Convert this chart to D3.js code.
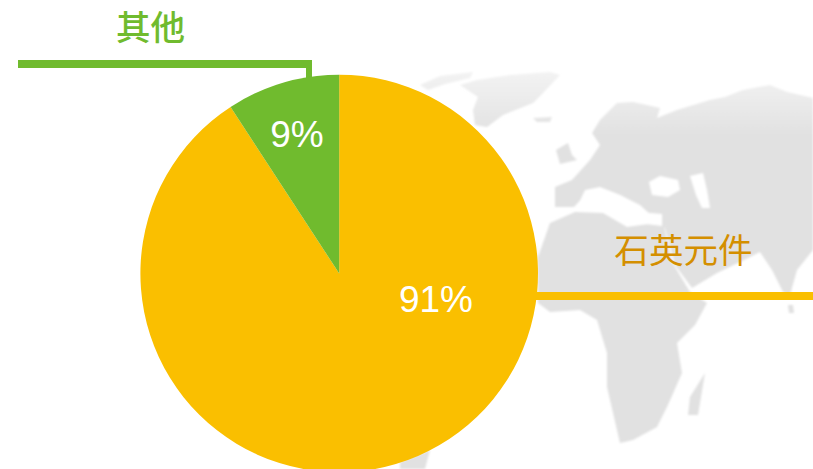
<!DOCTYPE html>
<html><head><meta charset="utf-8">
<script src="https://cdn.jsdelivr.net/npm/d3@7"></script>
<style>html,body{margin:0;padding:0;background:#fff;overflow:hidden}svg{display:block}</style>
</head><body><svg id="c" width="813" height="469"></svg>
<script>
const categories = ["石英元件", "其他"];
const values = [90.8, 9.2];
const percentLabels = ["91%", "9%"];
const colors = ["#fabf00", "#70bb2e"];
const nameColors = ["#d48f00", "#70bb2e"];

// decorative backdrop outlines
const landShapes = [
 [[420,85],[440,76],[473,72],[470,78],[445,84],[428,90]],
 [[477,80],[510,75],[550,72],[560,75],[543,93],[533,103],[503,115],[487,127],[475,125],[473,110],[478,97],[460,85]],
 [[533,118],[552,117],[550,122],[537,122]],
 [[556,150],[568,143],[572,155],[577,160],[560,164]],
 [[592,133],[600,120],[617,103],[633,102],[660,108],[657,118],[677,110],[710,100],[725,97],[743,90],[770,85],[787,92],[813,98],[813,250],[797,270],[790,295],[783,292],[772,270],[760,252],[740,262],[717,273],[692,288],[675,265],[665,228],[640,205],[620,195],[600,187],[585,190],[577,207],[555,207],[555,187],[572,180],[590,160],[600,145]],
 [[537,240],[538,257],[550,223],[575,212],[603,213],[627,227],[663,222],[672,262],[690,292],[707,303],[695,325],[677,343],[682,373],[667,407],[657,427],[633,440],[620,443],[607,387],[607,353],[597,320],[580,310],[550,312],[538,303]],
 [[705,373],[700,403],[698,415],[688,415],[690,397]],
 [[788,305],[793,305],[794,313],[789,313]],
 [[400,462],[430,450],[425,469],[400,469]]
];
const seaShapes = [
 [[649,182],[660,176],[678,180],[680,190],[668,197],[652,195]],
 [[690,176],[703,173],[707,190],[710,208],[702,208],[696,195]],
 [[574,207],[590,190],[600,192],[615,205],[610,212],[590,208]],
 [[605,190],[622,196],[638,212],[662,214],[662,226],[630,222],[610,212]]
];

const svg = d3.select("#c");
const cx = 339.2, cy = 273.5, r = 198.8;

const defs = svg.append("defs");
defs.append("filter").attr("id","soft")
  .append("feGaussianBlur").attr("stdDeviation",1.2);
const fade = defs.append("linearGradient").attr("id","fade")
  .attr("gradientUnits","userSpaceOnUse").attr("x1",0).attr("x2",0).attr("y1",72).attr("y2",135);
fade.append("stop").attr("offset",0).attr("stop-color","#f3f3f3");
fade.append("stop").attr("offset",1).attr("stop-color","#e1e1e1");

const line = d3.line().curve(d3.curveLinearClosed);
const map = svg.append("g").attr("filter","url(#soft)");
map.selectAll("path.land").data(landShapes).join("path").attr("class","land")
  .attr("d",line).attr("fill","url(#fade)");
map.selectAll("path.sea").data(seaShapes).join("path").attr("class","sea")
  .attr("d",line).attr("fill","#ffffff");

// leader lines
svg.append("rect").attr("x",18).attr("y",60).attr("width",294).attr("height",8).attr("fill",colors[1]);
svg.append("rect").attr("x",306).attr("y",60).attr("width",6).attr("height",24).attr("fill",colors[1]);
svg.append("rect").attr("x",530).attr("y",292).attr("width",283).attr("height",8).attr("fill",colors[0]);

const pie = d3.pie().sort(null).value(d=>d);
const arc = d3.arc().innerRadius(0).outerRadius(r);
svg.append("g").attr("transform",`translate(${cx},${cy})`)
  .selectAll("path").data(pie(values)).join("path")
  .attr("d",arc).attr("fill",(d,i)=>colors[i]);

const pctPos = [[436,299],[297,134]];
svg.selectAll("text.pct").data(percentLabels).join("text").attr("class","pct")
  .attr("x",(d,i)=>pctPos[i][0]).attr("y",(d,i)=>pctPos[i][1])
  .attr("text-anchor","middle").attr("dominant-baseline","central")
  .attr("font-family","'Liberation Sans',Arial,sans-serif").attr("font-size",37)
  .attr("fill","#fff").text(d=>d);

const namePos = [[683.5,263,34.6],[150.5,40,34.5]];
svg.selectAll("text.name").data(categories).join("text").attr("class","name")
  .attr("x",(d,i)=>namePos[i][0]).attr("y",(d,i)=>namePos[i][1])
  .attr("text-anchor","middle")
  .attr("font-family","'Noto Sans CJK SC',sans-serif")
  .attr("font-size",(d,i)=>namePos[i][2])
  .attr("font-weight",(d,i)=>i===1?500:400)
  .attr("fill",(d,i)=>nameColors[i]).text(d=>d);
</script></body></html>
